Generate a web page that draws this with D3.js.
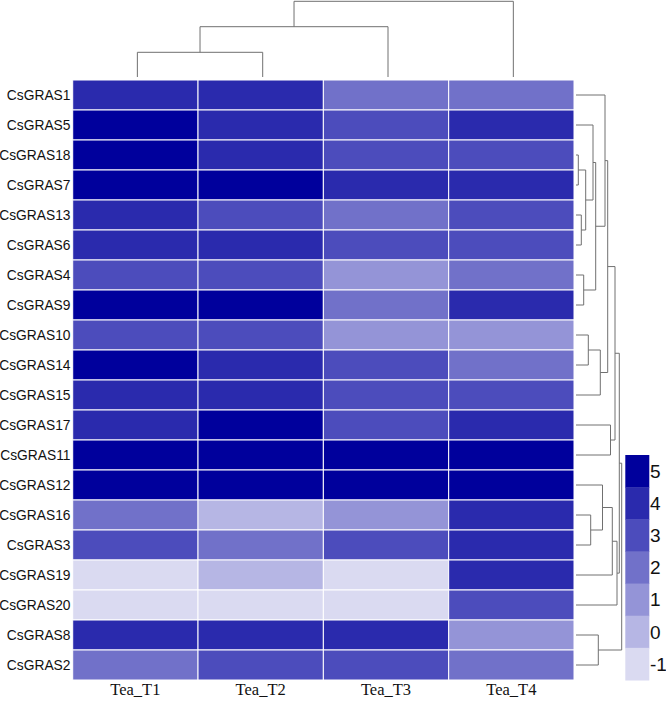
<!DOCTYPE html>
<html>
<head>
<meta charset="utf-8">
<script src="https://cdn.jsdelivr.net/npm/d3@7"></script>
<style>
  body { margin: 0; background: #fff; }
  .rowlab { font-family: "Liberation Sans", Arial, sans-serif; font-size: 13.8px; fill: #111; }
  .collab { font-family: "Liberation Serif", "Times New Roman", serif; font-size: 16.5px; fill: #111; }
  .leglab { font-family: "Liberation Sans", Arial, sans-serif; font-size: 19px; fill: #111; }
</style>
</head>
<body>
<div id="heatmap"></div>
<script>
// genes (rows, in dendrogram order) and samples (columns)
const genes = ['CsGRAS1', 'CsGRAS5', 'CsGRAS18', 'CsGRAS7', 'CsGRAS13', 'CsGRAS6', 'CsGRAS4',
  'CsGRAS9', 'CsGRAS10', 'CsGRAS14', 'CsGRAS15', 'CsGRAS17', 'CsGRAS11', 'CsGRAS12',
  'CsGRAS16', 'CsGRAS3', 'CsGRAS19', 'CsGRAS20', 'CsGRAS8', 'CsGRAS2'];
const samples = ['Tea_T1', 'Tea_T2', 'Tea_T3', 'Tea_T4'];

// expression levels
const values = [
  [4, 4, 2, 2],
  [5, 4, 3, 4],
  [5, 4, 3, 3],
  [5, 5, 4, 4],
  [4, 3, 2, 3],
  [4, 4, 3, 3],
  [3, 3, 1, 2],
  [5, 5, 2, 4],
  [3, 3, 1, 1],
  [5, 4, 3, 2],
  [4, 4, 3, 3],
  [4, 5, 3, 4],
  [5, 5, 5, 5],
  [5, 5, 5, 5],
  [2, 0, 1, 4],
  [3, 2, 3, 4],
  [-1, 0, -1, 4],
  [-1, -1, -1, 3],
  [4, 4, 4, 1],
  [2, 3, 3, 2]
];

// legend levels and colours
const legendTicks = [5, 4, 3, 2, 1, 0, -1];
const legendColors = ['#00009c', '#2a2aad', '#4c4cbc', '#7171c9', '#9494d7', '#b6b6e4', '#dadaf1'];

// hclust style merges: negative = leaf (1-based), positive = earlier merge, then height
const rowMerges = [
  [-3, -4, 2.3], [-5, -6, 5.3], [1, 2, 9.7], [-2, 3, 17], [-7, -8, 7.7],
  [4, 5, 19.7], [-1, 6, 29], [-9, -10, 12.3], [8, -11, 24.3], [7, 9, 31.7],
  [-12, -13, 34.5], [10, 11, 39], [-15, -16, 14.7], [-14, 13, 26.5], [14, -17, 36.3],
  [15, -18, 41], [12, 16, 43.3], [-19, -20, 22.3], [17, 18, 45.7]
];
const colMerges = [[-1, -2, 24.7], [1, -3, 50.3], [2, -4, 75.7]];

const width = 666;
const height = 701;

const svg = d3.select('#heatmap')
  .append('svg')
  .attr('width', width)
  .attr('height', height);

const x = d3.scaleBand().domain(samples).range([72.7, 574]);
const y = d3.scaleBand().domain(genes).range([80, 680]);

const color = d3.scaleOrdinal().domain(legendTicks).range(legendColors);

// cells
const cells = [];
values.forEach((row, i) => row.forEach((v, j) => cells.push({gene: genes[i], sample: samples[j], value: v})));

svg.append('g')
  .attr('class', 'cells')
  .selectAll('rect')
  .data(cells)
  .enter().append('rect')
    .attr('x', d => x(d.sample))
    .attr('y', d => y(d.gene))
    .attr('width', x.bandwidth())
    .attr('height', y.bandwidth())
    .style('fill', d => color(d.value))
    .style('stroke', '#fff')
    .style('stroke-width', 1);

// row labels
svg.append('g')
  .selectAll('text')
  .data(genes)
  .enter().append('text')
    .attr('class', 'rowlab')
    .attr('x', 70.5)
    .attr('y', d => y(d) + y.bandwidth() / 2)
    .attr('dy', '0.35em')
    .attr('text-anchor', 'end')
    .text(d => d);

// column labels
svg.append('g')
  .selectAll('text')
  .data(samples)
  .enter().append('text')
    .attr('class', 'collab')
    .attr('x', d => x(d) + x.bandwidth() / 2)
    .attr('y', 695)
    .attr('text-anchor', 'middle')
    .text(d => d);

// dendrogram: turns merges into line segments
function dendroLines(merges, leafPos, hScale, horizontal) {
  const nodes = [];
  const get = k => k < 0 ? {p: leafPos(-k - 1), h: 0} : nodes[k - 1];
  const lines = [];
  merges.forEach(([a, b, h]) => {
    const l = get(a), r = get(b);
    lines.push([[l.p, l.h], [l.p, h], [r.p, h], [r.p, r.h]]);
    nodes.push({p: (l.p + r.p) / 2, h: h});
  });
  return lines.map(pts => pts.map(([p, h]) => horizontal ? [hScale(h), p] : [p, hScale(h)]));
}

const line = d3.line();

const rowH = d3.scaleLinear().domain([0, 45.7]).range([576, 621.7]);
const rowLines = dendroLines(rowMerges, i => y(genes[i]) + y.bandwidth() / 2, rowH, true);

const colH = d3.scaleLinear().domain([0, 75.7]).range([77, 1.3]);
const colLines = dendroLines(colMerges, i => x(samples[i]) + x.bandwidth() / 2 + 2, colH, false);

svg.append('g')
  .attr('class', 'dendro')
  .selectAll('path')
  .data(rowLines.concat(colLines))
  .enter().append('path')
    .attr('d', line)
    .style('fill', 'none')
    .style('stroke', '#707070')
    .style('stroke-width', 1);

// colour key
const leg = d3.scaleBand().domain(legendTicks).range([455, 680]);

const key = svg.append('g').attr('class', 'legend');

key.selectAll('rect')
  .data(legendTicks)
  .enter().append('rect')
    .attr('x', 625.3)
    .attr('y', d => leg(d))
    .attr('width', 24)
    .attr('height', leg.bandwidth() + 0.5)
    .style('fill', d => color(d));

key.selectAll('text')
  .data(legendTicks)
  .enter().append('text')
    .attr('class', 'leglab')
    .attr('x', 650)
    .attr('y', d => leg(d) + leg.bandwidth() / 2)
    .attr('dy', '0.36em')
    .text(d => d);
</script>
</body>
</html>
